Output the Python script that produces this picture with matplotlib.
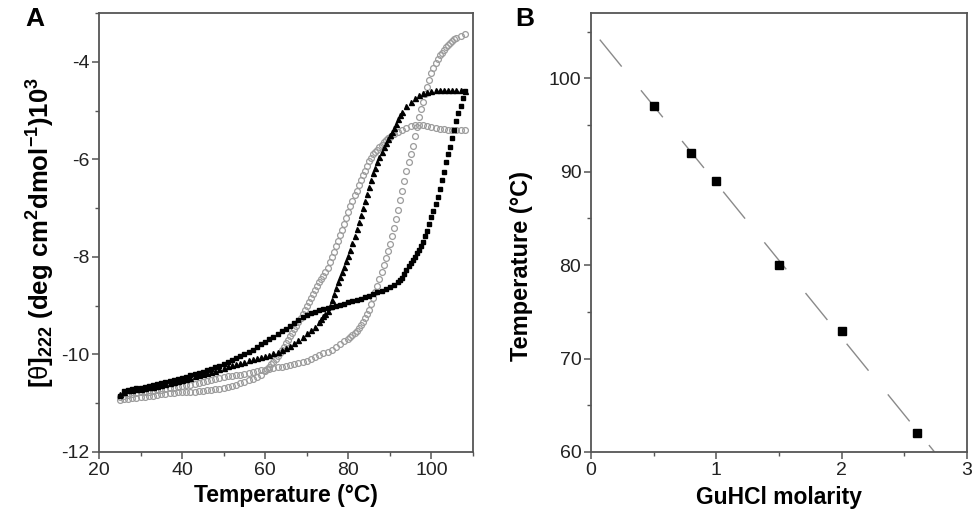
import numpy as np
import matplotlib
matplotlib.use('Agg')
import matplotlib.pyplot as plt
from matplotlib.ticker import MultipleLocator

plt.rcParams['font.family'] = ['Liberation Sans', 'DejaVu Sans']
plt.rcParams['axes.unicode_minus'] = False
plt.rcParams['mathtext.fontset'] = 'custom'
plt.rcParams['mathtext.rm'] = 'Liberation Sans:bold'
plt.rcParams['mathtext.bf'] = 'Liberation Sans:bold'
plt.rcParams['mathtext.it'] = 'Liberation Sans'

# ---- panel A: CD melting curves, [theta]222 x 10^3 ----
# gray open circles, lower Tm (plateau near -5.4)
g1_temp = [25, 26, 27, 28, 29, 30, 31, 32, 33, 34, 35, 36, 37, 38, 39, 40, 41, 42, 43, 44,
           45, 46, 47, 48, 49, 50, 51, 52, 53, 54, 55, 56, 57, 58, 59, 60,
           60.5, 61, 61.5, 62, 62.5, 63, 63.5, 64, 64.5, 65, 65.5, 66, 66.5, 67, 67.5, 68,
           68.5, 69, 69.5, 70, 70.5, 71, 71.5, 72, 72.5, 73, 73.5, 74, 74.5, 75, 75.5, 76,
           76.5, 77, 77.5, 78, 78.5, 79, 79.5, 80, 80.5, 81, 81.5, 82, 82.5, 83, 83.5, 84,
           84.5, 85, 85.5, 86, 86.5, 87, 87.5, 88, 88.5, 89, 89.5, 90,
           91, 92, 93, 94, 95, 96, 97, 98, 99, 100, 101, 102, 103, 104, 105, 106, 107, 108]
g1_theta = [-10.93, -10.92, -10.91, -10.90, -10.89, -10.88, -10.87, -10.86, -10.85, -10.84,
            -10.82, -10.81, -10.80, -10.79, -10.78, -10.78, -10.77, -10.76, -10.76, -10.75,
            -10.74, -10.73, -10.72, -10.71, -10.70, -10.68, -10.66, -10.64, -10.62, -10.59,
            -10.56, -10.53, -10.50, -10.46, -10.42, -10.34,
            -10.30, -10.25, -10.20, -10.15, -10.09, -10.03, -9.97, -9.90, -9.84, -9.77, -9.70,
            -9.63, -9.56, -9.48, -9.41, -9.33, -9.25, -9.17, -9.09, -9.01, -8.92, -8.84, -8.76,
            -8.68, -8.60, -8.52, -8.46, -8.39, -8.31, -8.22, -8.11, -8.00, -7.89, -7.78, -7.67,
            -7.56, -7.45, -7.33, -7.20, -7.07, -6.96, -6.85, -6.74, -6.64, -6.53, -6.43, -6.33,
            -6.23, -6.13, -6.04, -5.97, -5.90, -5.85, -5.80, -5.75, -5.70, -5.65, -5.61, -5.57,
            -5.54,
            -5.49, -5.44, -5.40, -5.36, -5.32, -5.30, -5.29, -5.30, -5.32, -5.34, -5.36, -5.37,
            -5.38, -5.39, -5.40, -5.40, -5.40, -5.40]

# gray open circles, higher Tm (ends near -3.45)
g2_temp = [25, 26, 27, 28, 29, 30, 31, 32, 33, 34, 35, 36, 37, 38, 39, 40, 41, 42, 43, 44,
           45, 46, 47, 48, 49, 50, 51, 52, 53, 54, 55, 56, 57, 58, 59, 60, 61, 62, 63, 64,
           65, 66, 67, 68, 69, 70, 71, 72, 73, 74, 75, 76, 77, 78, 79, 80,
           80.5, 81, 81.5, 82, 82.5, 83, 83.5, 84, 84.5, 85, 85.5, 86, 86.5, 87, 87.5, 88,
           88.5, 89, 89.5, 90, 90.5, 91, 91.5, 92, 92.5, 93, 93.5, 94, 94.5, 95, 95.5, 96,
           96.5, 97, 97.5, 98, 98.5, 99, 99.5, 100, 100.5, 101, 101.5, 102, 102.5, 103, 103.5,
           104, 104.5, 105, 105.5, 106, 107, 108]
g2_theta = [-10.88, -10.85, -10.83, -10.81, -10.80, -10.78, -10.77, -10.76, -10.74, -10.73,
            -10.72, -10.71, -10.69, -10.68, -10.66, -10.65, -10.63, -10.62, -10.60, -10.58,
            -10.56, -10.54, -10.52, -10.50, -10.48, -10.47, -10.45, -10.44, -10.43, -10.42,
            -10.40, -10.38, -10.36, -10.34, -10.32, -10.31, -10.29, -10.28, -10.26, -10.25,
            -10.24, -10.22, -10.20, -10.18, -10.16, -10.13, -10.10, -10.06, -10.02, -9.98,
            -9.94, -9.90, -9.84, -9.78, -9.72, -9.68,
            -9.65, -9.61, -9.56, -9.51, -9.45, -9.39, -9.33, -9.26, -9.18, -9.08, -8.96, -8.84,
            -8.72, -8.59, -8.45, -8.31, -8.16, -8.02, -7.88, -7.73, -7.57, -7.40, -7.22, -7.03,
            -6.84, -6.64, -6.44, -6.24, -6.05, -5.89, -5.72, -5.53, -5.33, -5.13, -4.97, -4.82,
            -4.67, -4.52, -4.38, -4.24, -4.12, -4.02, -3.94, -3.87, -3.81, -3.75, -3.70, -3.65,
            -3.61, -3.57, -3.54, -3.51, -3.47, -3.44]

# black triangles, lower Tm (plateau near -4.6)
k1_temp = [25, 26, 27, 28, 29, 30, 31, 32, 33, 34, 35, 36, 37, 38, 39, 40, 41, 42, 43, 44,
           45, 46, 47, 48, 49, 50, 51, 52, 53, 54, 55, 56, 57, 58, 59, 60, 61, 62, 63, 64,
           65, 66, 67, 68, 69, 70, 71, 72, 73,
           73.5, 74, 74.5, 75, 75.5, 76, 76.5, 77, 77.5, 78, 78.5, 79, 79.5, 80, 80.5, 81,
           81.5, 82, 82.5, 83, 83.5, 84, 84.5, 85, 85.5, 86, 86.5, 87, 87.5, 88, 88.5, 89,
           89.5, 90, 90.5, 91, 91.5, 92, 92.5, 93,
           94, 95, 96, 97, 98, 99, 100, 101, 102, 103, 104, 105, 106, 107, 108]
k1_theta = [-10.82, -10.76, -10.73, -10.72, -10.71, -10.70, -10.69, -10.67, -10.66, -10.64,
            -10.62, -10.60, -10.58, -10.56, -10.54, -10.52, -10.50, -10.48, -10.45, -10.43,
            -10.40, -10.38, -10.35, -10.33, -10.30, -10.27, -10.24, -10.21, -10.19, -10.17,
            -10.15, -10.12, -10.10, -10.07, -10.05, -10.03, -10.01, -9.98, -9.95, -9.91,
            -9.87, -9.82, -9.77, -9.71, -9.64, -9.57, -9.50, -9.43, -9.33,
            -9.27, -9.22, -9.17, -9.10, -9.01, -8.89, -8.77, -8.64, -8.52, -8.42, -8.31, -8.20,
            -8.09, -7.98, -7.86, -7.72, -7.57, -7.43, -7.29, -7.14, -7.00, -6.85, -6.71, -6.57,
            -6.43, -6.29, -6.17, -6.06, -5.95, -5.85, -5.75, -5.66, -5.58, -5.51, -5.43, -5.35,
            -5.27, -5.18, -5.10, -5.03,
            -4.91, -4.82, -4.74, -4.69, -4.65, -4.62, -4.60, -4.58, -4.57, -4.57, -4.57, -4.57,
            -4.57, -4.58, -4.59]

# black squares, higher Tm (knee near 90 C)
k2_temp = [25, 26, 27, 28, 29, 30, 31, 32, 33, 34, 35, 36, 37, 38, 39, 40, 41, 42, 43, 44,
           45, 46, 47, 48, 49, 50, 51, 52, 53, 54, 55, 56, 57, 58, 59, 60, 61, 62, 63, 64,
           65, 66, 67, 68, 69, 70, 71, 72, 73, 74, 75, 76, 77, 78, 79, 80, 81, 82, 83, 84,
           85, 86, 87, 88, 89, 90, 91, 92,
           92.5, 93, 93.5, 94, 94.5, 95, 95.5, 96, 96.5, 97, 97.5, 98, 98.5, 99, 99.5, 100,
           100.5, 101, 101.5, 102, 102.5, 103, 103.5, 104, 104.5, 105, 105.5, 106, 106.5, 107,
           107.5, 108]
k2_theta = [-10.86, -10.74, -10.72, -10.70, -10.69, -10.68, -10.66, -10.65, -10.63, -10.61,
            -10.59, -10.57, -10.55, -10.53, -10.50, -10.48, -10.46, -10.43, -10.41, -10.38,
            -10.35, -10.32, -10.29, -10.26, -10.23, -10.20, -10.16, -10.12, -10.08, -10.04,
            -10.00, -9.95, -9.90, -9.85, -9.79, -9.74, -9.69, -9.64, -9.58, -9.52,
            -9.47, -9.41, -9.35, -9.29, -9.23, -9.19, -9.15, -9.12, -9.09, -9.06,
            -9.04, -9.02, -9.00, -8.98, -8.96, -8.93, -8.91, -8.88, -8.86, -8.83,
            -8.80, -8.77, -8.73, -8.69, -8.65, -8.61, -8.57, -8.52,
            -8.48, -8.43, -8.35, -8.26, -8.19, -8.13, -8.06, -8.00, -7.93, -7.86, -7.78, -7.69,
            -7.58, -7.46, -7.32, -7.19, -7.06, -6.92, -6.77, -6.60, -6.43, -6.26, -6.06, -5.90,
            -5.74, -5.56, -5.39, -5.22, -5.06, -4.90, -4.74, -4.59]

# ---- panel B: Tm vs GuHCl ----
guhcl_molarity = [0.5, 0.8, 1.0, 1.5, 2.0, 2.6]
melting_temp = [97, 92, 89, 80, 73, 62]

spine_gray = '#555555'

fig = plt.figure(figsize=(9.74, 5.12), dpi=100)
ax_a = fig.add_axes([0.1016, 0.1172, 0.384, 0.8574])
ax_b = fig.add_axes([0.6068, 0.1172, 0.386, 0.8574])

circ = dict(marker='o', ms=4.2, mfc='none', mec='#9c9c9c', mew=0.9, ls='none')
ax_a.plot(g1_temp, g1_theta, **circ)
ax_a.plot(g2_temp, g2_theta, **circ)
ax_a.plot(k1_temp, k1_theta, marker='^', ms=3.6, color='black', ls='none')
ax_a.plot(k2_temp, k2_theta, marker='s', ms=3.0, color='black', ls='none')

ax_a.set_xlim(20, 110)
ax_a.set_ylim(-12, -3)
ax_a.xaxis.set_major_locator(MultipleLocator(20))
ax_a.xaxis.set_minor_locator(MultipleLocator(10))
ax_a.yaxis.set_major_locator(MultipleLocator(2))
ax_a.yaxis.set_minor_locator(MultipleLocator(1))
ax_a.set_xlabel('Temperature (°C)', fontsize=16.5, fontweight='bold', labelpad=4)
ax_a.set_ylabel(r'[$\mathit{\theta}$]$_{222}$ (deg cm$^{2}$dmol$^{-1}$)10$^{3}$',
                fontsize=18.5, fontweight='bold', labelpad=3)

# linear fit drawn across the data range, dashed
fit = np.polyfit(guhcl_molarity, melting_temp, 1)
x_fit = np.array([0.07, (60 - fit[1]) / fit[0]])
ax_b.plot(x_fit, np.polyval(fit, x_fit), color='#8a8a8a', lw=1.0, dashes=(25, 22))
ax_b.plot(guhcl_molarity, melting_temp, 's', color='black', ms=5.5)

ax_b.set_xlim(0, 3)
ax_b.set_ylim(60, 107)
ax_b.xaxis.set_major_locator(MultipleLocator(1))
ax_b.xaxis.set_minor_locator(MultipleLocator(0.5))
ax_b.yaxis.set_major_locator(MultipleLocator(10))
ax_b.yaxis.set_minor_locator(MultipleLocator(5))
ax_b.set_xlabel('GuHCl molarity', fontsize=16.5, fontweight='bold', labelpad=5)
ax_b.set_ylabel('Temperature (°C)', fontsize=17, fontweight='bold')
ax_b.yaxis.set_label_coords(-0.155, 0.424)

for ax in (ax_a, ax_b):
    for s in ax.spines.values():
        s.set_color(spine_gray)
        s.set_linewidth(1.3)
    ax.tick_params(which='major', direction='out', length=5, width=1.1, color=spine_gray,
                   labelsize=14, labelcolor='#222222', pad=2)
    ax.tick_params(which='minor', direction='out', length=3, width=1.0, color=spine_gray)

fig.text(0.026, 0.962, 'A', fontsize=19, fontweight='bold', va='center', ha='left')
fig.text(0.529, 0.962, 'B', fontsize=19, fontweight='bold', va='center', ha='left')

fig.savefig('out.png', dpi=100)
